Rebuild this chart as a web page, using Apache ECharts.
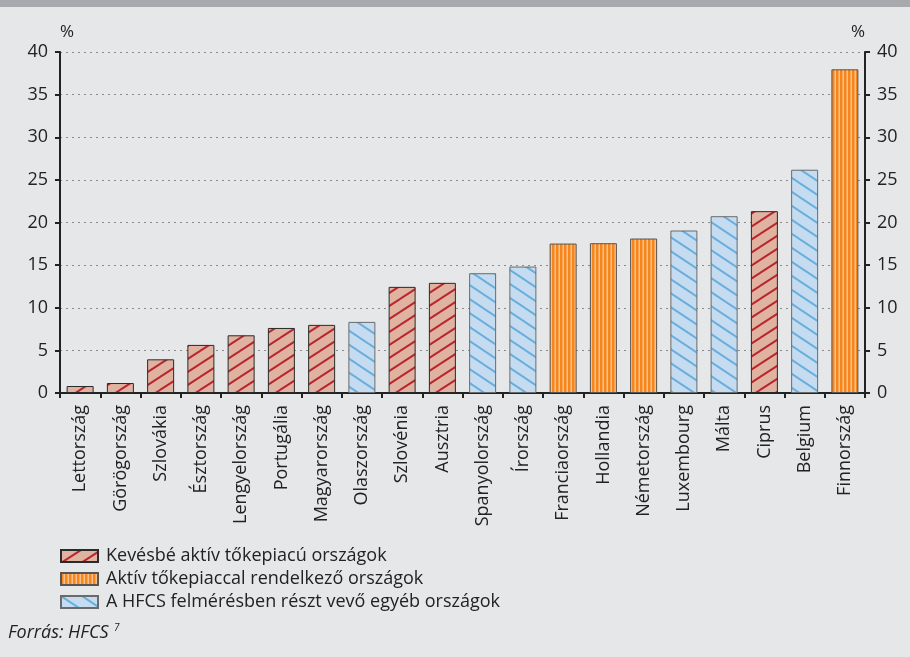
<!DOCTYPE html>
<html>
<head>
<meta charset="utf-8">
<script src="https://cdn.jsdelivr.net/npm/echarts@6/dist/echarts.min.js"></script>
<style>
html,body{margin:0;padding:0;background:#e6e7e9;}
#c{width:910px;height:657px;}
</style>
</head>
<body>
<div id="c"></div>
<script>
const categories = ["Lettország","Görögország","Szlovákia","Észtország","Lengyelország","Portugália","Magyarország","Olaszország","Szlovénia","Ausztria","Spanyolország","Írország","Franciaország","Hollandia","Németország","Luxembourg","Málta","Ciprus","Belgium","Finnország"];
const values = [0.82,1.17,3.95,5.64,6.77,7.63,7.99,8.34,12.45,12.92,14.05,14.83,17.53,17.57,18.12,19.06,20.74,21.33,26.19,37.97];
// 0 = less active, 1 = active, 2 = other
const groups = [0,0,0,0,0,0,0,2,0,0,2,2,1,1,1,2,2,0,2,1];
const groupNames = ["Kevésbé aktív tőkepiacú országok","Aktív tőkepiaccal rendelkező országok","A HFCS felmérésben részt vevő egyéb országok"];
const yTicks = [0,5,10,15,20,25,30,35,40];

function hatch(bg, fg, w, h, dir, lw){
  const c = document.createElement('canvas');
  c.width = w; c.height = h;
  const g = c.getContext('2d');
  g.fillStyle = bg; g.fillRect(0,0,w,h);
  g.strokeStyle = fg; g.lineWidth = lw;
  g.beginPath();
  for(let k=-1;k<=1;k++){
    for(let m=-1;m<=1;m++){
      if(dir>0){ g.moveTo(k*w, h + m*h); g.lineTo(k*w+w, m*h); }
      else { g.moveTo(k*w, m*h); g.lineTo(k*w+w, h + m*h); }
    }
  }
  g.stroke();
  return c;
}
function vstripes(bg, fg){
  const c = document.createElement('canvas');
  c.width = 4; c.height = 4;
  const g = c.getContext('2d');
  g.fillStyle = bg; g.fillRect(0,0,4,4);
  g.fillStyle = fg; g.fillRect(2.5,0,1.5,4);
  return c;
}
const fills = [
  {image: hatch('#e0b2a1','#b8272d',20,13,1,2), repeat:'repeat'},
  {image: vstripes('#f4861d','#fbc18b'), repeat:'repeat'},
  {image: hatch('#c5dcf0','#6aaedd',21,14,-1,2), repeat:'repeat'}
];
const borders = ['#2a2a2a','#555555','#6a6a6a'];

const series = groupNames.map((name, gi) => ({
  name: name,
  type: 'bar',
  barWidth: 27,
  barGap: '-100%',
  itemStyle: {color: fills[gi], borderColor: borders[gi], borderWidth: 1},
  emphasis: {disabled: true},
  data: values.map((v, i) => groups[i] === gi ? v : null)
}));

const FF = 'Open Sans';
const axisCommon = {
  type: 'value', min: yTicks[0], max: yTicks[yTicks.length-1], interval: 5,
  name: '%', nameGap: 11,
  axisLine: {show: true, lineStyle: {color: '#222', width: 2}},
  axisTick: {show: true, length: 5, lineStyle: {color: '#222', width: 2}},
  axisLabel: {color: '#222', fontSize: 18, fontFamily: FF, margin: 12}
};

const chart = echarts.init(document.getElementById('c'));
chart.setOption({
  backgroundColor: '#e6e7e9',
  animation: false,
  grid: {left: 60, right: 45, top: 52, bottom: 264, containLabel: false},
  xAxis: {
    type: 'category', data: categories,
    axisLine: {lineStyle: {color: '#222', width: 2}},
    axisTick: {show: true, length: 5, lineStyle: {color: '#222', width: 2}},
    axisLabel: {rotate: 90, interval: 0, color: '#222', fontSize: 18, fontFamily: FF, margin: 12}
  },
  yAxis: [
    Object.assign({}, axisCommon, {
      position: 'left',
      nameTextStyle: {color: '#222', fontSize: 17, fontFamily: FF, align: 'left'},
      splitLine: {show: true, lineStyle: {color: '#8a8a8a', width: 1.2, type: [2, 4]}}
    }),
    Object.assign({}, axisCommon, {
      position: 'right',
      nameTextStyle: {color: '#222', fontSize: 17, fontFamily: FF, align: 'right'},
      splitLine: {show: false}
    })
  ],
  legend: {
    orient: 'vertical', left: 55, top: 542,
    itemWidth: 37, itemHeight: 12, itemGap: 5,
    icon: 'rect',
    selectedMode: false,
    textStyle: {color: '#222', fontSize: 18, fontFamily: FF, lineHeight: 18, padding: [0,0,0,3]},
    data: groupNames
  },
  graphic: [
    {type: 'rect', left: 0, top: 0, shape: {width: 910, height: 7}, style: {fill: '#a8a9ad'}},
    {type: 'text', left: 8, top: 624, style: {text: 'Forrás: HFCS', fontSize: 18, fontStyle: 'italic', fontFamily: FF, fill: '#222'}},
    {type: 'text', left: 114, top: 623, style: {text: '7', fontSize: 10, fontStyle: 'italic', fontFamily: FF, fill: '#222'}}
  ],
  series: series
});
</script>
</body>
</html>
